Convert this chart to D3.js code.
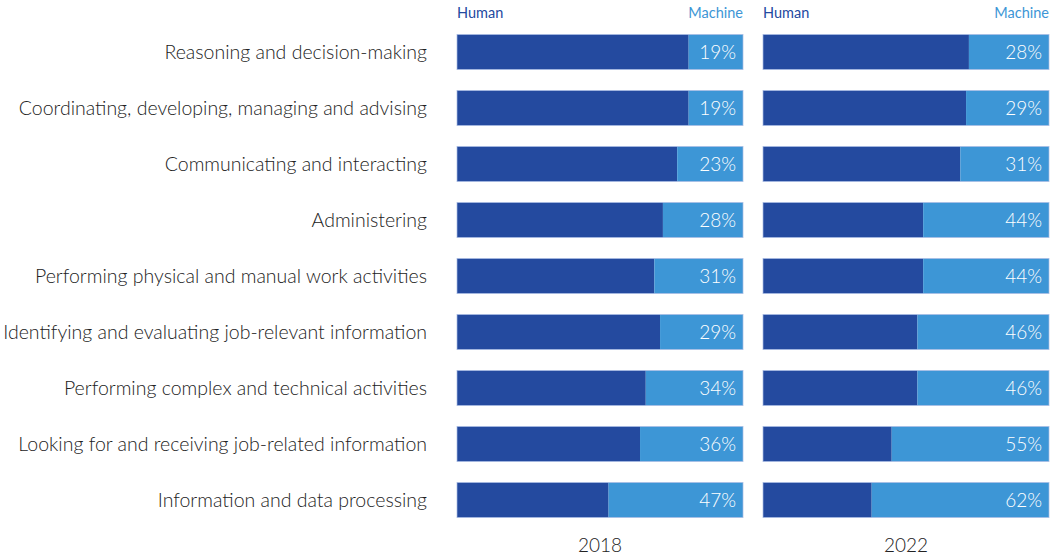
<!DOCTYPE html>
<html>
<head>
<meta charset="utf-8">
<style>
	body { margin: 0; background: #fff; }
	svg text { font-family: Lato, "Noto Sans", sans-serif; }
</style>
</head>
<body>
<script src="https://cdn.jsdelivr.net/npm/d3@7"></script>
<script>
var activities = [
	"Reasoning and decision-making",
	"Coordinating, developing, managing and advising",
	"Communicating and interacting",
	"Administering",
	"Performing physical and manual work activities",
	"Identifying and evaluating job-relevant information",
	"Performing complex and technical activities",
	"Looking for and receiving job-related information",
	"Information and data processing"
];
var years = ["2018", "2022"];
var machine2018 = [19, 19, 23, 28, 31, 29, 34, 36, 47];
var machine2022 = [28, 29, 31, 44, 44, 46, 46, 55, 62];
var seriesNames = ["Human", "Machine"];

var width = 1050, height = 560,
	humanColor = "#244a9f",
	machineColor = "#3d96d6";

var panels = [
	{ year: years[0], values: machine2018, x0: 457 },
	{ year: years[1], values: machine2022, x0: 763 }
];
var panelWidth = 286;

var svg = d3.select("body").append("svg")
	.attr("width", width)
	.attr("height", height);

var y = d3.scaleBand()
	.domain(activities)
	.range([24, 528])
	.paddingInner(0.375)
	.paddingOuter(0.1875);

// category labels
svg.append("g").selectAll("text")
	.data(activities)
	.enter().append("text")
	.attr("x", 427)
	.attr("y", function(d) { return y(d) + y.bandwidth() / 2; })
	.attr("dy", "0.35em")
	.attr("text-anchor", "end")
	.attr("font-size", 19.5)
	.attr("font-weight", 300)
	.attr("fill", "#222")
	.text(function(d) { return d; });

panels.forEach(function(p) {
	var x = d3.scaleLinear().domain([0, 100]).range([p.x0, p.x0 + panelWidth]);
	var g = svg.append("g");

	g.append("text")
		.attr("x", x(0)).attr("y", 18)
		.attr("font-size", 14.5)
		.attr("fill", humanColor)
		.text(seriesNames[0]);
	g.append("text")
		.attr("x", x(100)).attr("y", 18)
		.attr("text-anchor", "end")
		.attr("font-size", 14.5)
		.attr("fill", machineColor)
		.text(seriesNames[1]);

	var rows = g.selectAll("g.row")
		.data(p.values)
		.enter().append("g")
		.attr("class", "row")
		.attr("transform", function(d, i) { return "translate(0," + y(activities[i]) + ")"; });

	rows.append("rect")
		.attr("x", x(0))
		.attr("width", function(d) { return x(100 - d) - x(0); })
		.attr("height", y.bandwidth())
		.attr("fill", humanColor);

	rows.append("rect")
		.attr("x", function(d) { return x(100 - d); })
		.attr("width", function(d) { return x(100) - x(100 - d); })
		.attr("height", y.bandwidth())
		.attr("fill", machineColor);

	rows.append("rect")
		.attr("x", x(0))
		.attr("width", x(100) - x(0))
		.attr("height", y.bandwidth())
		.attr("fill", "none")
		.attr("stroke", "#a9bce4")
		.attr("stroke-width", 1)
		.attr("stroke-opacity", 0.7);

	rows.append("text")
		.attr("x", x(100) - 7)
		.attr("y", y.bandwidth() / 2)
		.attr("dy", "0.35em")
		.attr("text-anchor", "end")
		.attr("font-size", 19)
		.attr("font-weight", 300)
		.attr("fill", "#fff")
		.text(function(d) { return d + "%"; });

	g.append("text")
		.attr("x", (x(0) + x(100)) / 2)
		.attr("y", 552)
		.attr("text-anchor", "middle")
		.attr("font-size", 19)
		.attr("font-weight", 300)
		.attr("fill", "#222")
		.text(p.year);
});
</script>
</body>
</html>
